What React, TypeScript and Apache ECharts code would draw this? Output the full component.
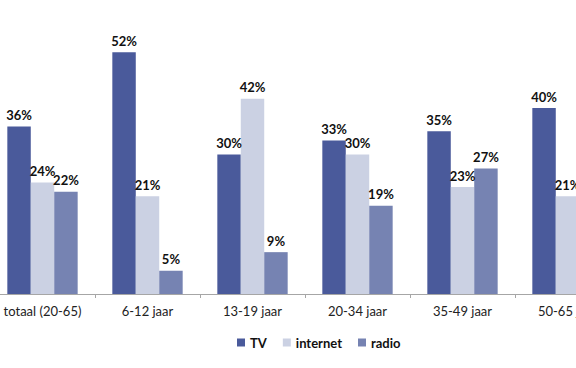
import React, { useEffect, useRef } from "react";
import * as echarts from "echarts";

const categories = ["totaal (20-65)", "6-12 jaar", "13-19 jaar", "20-34 jaar", "35-49 jaar", "50-65 jaar"];
const tvValues = [36, 52, 30, 33, 35, 40];
const internetValues = [24, 21, 42, 30, 23, 21];
const radioValues = [22, 5, 9, 19, 27, 27];
const seriesNames = ["TV", "internet", "radio"];
const colors = ["#4a5a9b", "#cbd1e3", "#7683b2"];

export default function App() {
  const ref = useRef<HTMLDivElement>(null);
  useEffect(() => {
    if (!ref.current) return;
    const chart = echarts.init(ref.current, null, { renderer: "svg" });
    const font = "Lato, 'Liberation Sans', sans-serif";
    const mk = (name: string, data: number[], color: string) => ({
      name,
      type: "bar",
      data,
      barGap: "0%",
      barCategoryGap: "33%",
      itemStyle: { color },
      label: {
        show: true,
        position: "top",
        distance: 5,
        formatter: "{c}%",
        fontFamily: font,
        fontWeight: "bold",
        fontSize: 13,
        color: "#111",
      },
    });
    chart.setOption({
      animation: false,
      color: colors,
      grid: { left: 0, right: 0, top: 15, bottom: 74 },
      legend: {
        data: seriesNames,
        left: 242,
        top: 331,
        itemWidth: 8,
        itemHeight: 8,
        itemGap: 16,
        icon: "rect",
        textStyle: { fontFamily: font, fontWeight: "bold", fontSize: 13, color: "#111" },
      },
      xAxis: {
        type: "category",
        data: categories,
        axisLine: { lineStyle: { color: "#a6a6a6" } },
        axisTick: { show: true, length: 4, lineStyle: { color: "#a6a6a6" } },
        axisLabel: { fontFamily: font, fontSize: 13, color: "#222", margin: 10 },
      },
      yAxis: {
        type: "value",
        min: 0,
        max: 60,
        show: false,
        splitLine: { show: false },
      },
      series: [
        mk(seriesNames[0], tvValues, colors[0]),
        mk(seriesNames[1], internetValues, colors[1]),
        mk(seriesNames[2], radioValues, colors[2]),
      ],
    });
    return () => chart.dispose();
  }, []);
  return (
    <div style={{ position: "fixed", left: 0, top: 0, width: 576, height: 368, overflow: "hidden", background: "#fff" }}>
      <div ref={ref} style={{ position: "absolute", left: -10, top: 0, width: 630, height: 368 }} />
    </div>
  );
}
